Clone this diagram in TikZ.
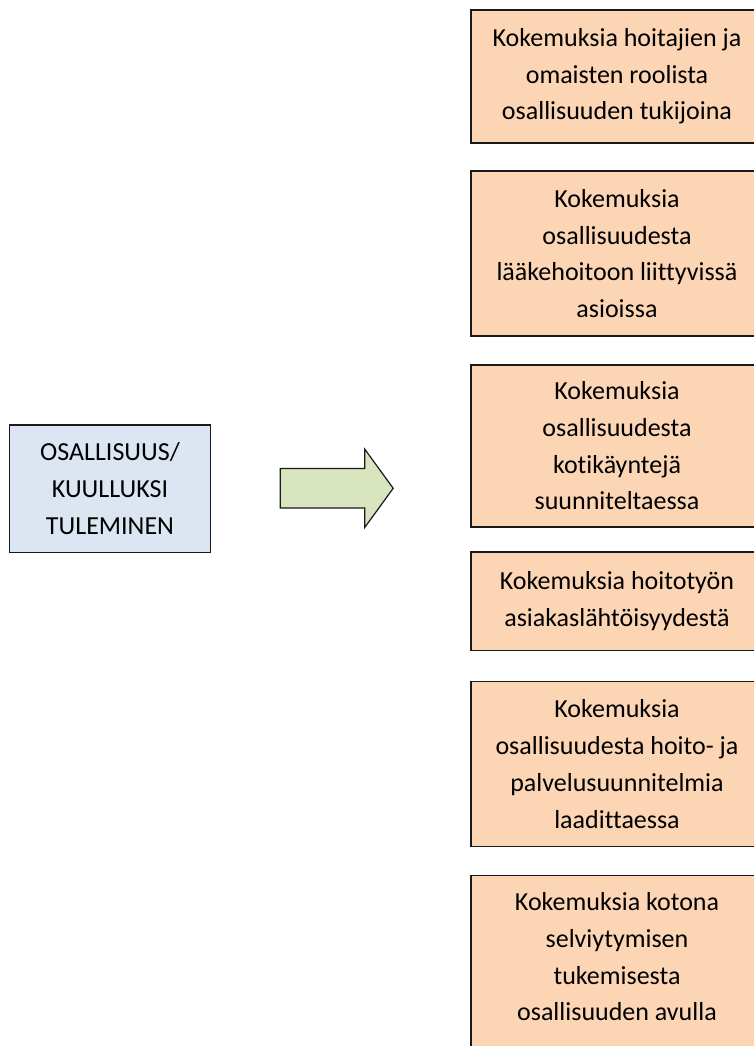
\documentclass[tikz,border=0pt]{standalone}
\usepackage{fontspec}
\setmainfont{Carlito}[Ligatures=NoCommon]
\usepackage{xcolor}
\usetikzlibrary{shapes,arrows,positioning}
\definecolor{osabox}{RGB}{220,230,242}
\definecolor{kokbox}{RGB}{252,213,181}
\definecolor{nuolifill}{RGB}{215,228,189}

\begin{document}
\begin{tikzpicture}[
    box/.style={draw=black!90, line width=0.75pt, align=center, font=\fontsize{13}{18.35}\selectfont, inner sep=0pt},
    kok/.style={box, fill=kokbox, minimum width=146pt},
    bigarrow/.style={single arrow, draw=black!90, line width=0.6pt, fill=nuolifill, minimum height=56.5pt, single arrow head extend=9.7pt, single arrow tip angle=108, inner xsep=0pt, inner ysep=9.6pt}
]
\useasboundingbox (0,0) rectangle (377pt,523pt);

% Left concept
\node[box, fill=osabox, minimum width=100.7pt, minimum height=63.7pt] (osall) at (55pt,278.7pt) {OSALLISUUS/\\KUULLUKSI\\TULEMINEN};

% Block arrow
\node[bigarrow] (nuoli) at (164.75pt,278.85pt) {};

% Experiences
\node[kok, minimum height=66.5pt] (k1) at (308.5pt,484.75pt) {Kokemuksia hoitajien ja\\omaisten roolista\\osallisuuden tukijoina};
\node[kok, minimum height=82.5pt, below=13.25pt of k1] (k2) {Kokemuksia\\osallisuudesta\\lääkehoitoon liittyvissä\\asioissa};
\node[kok, minimum height=81pt, below=13.75pt of k2] (k3) {Kokemuksia\\osallisuudesta\\kotikäyntejä\\suunniteltaessa};
\node[kok, minimum height=49.3pt, below=11.75pt of k3] (k4) {Kokemuksia hoitotyön\\asiakaslähtöisyydestä};
\node[kok, minimum height=82.5pt, below=14.75pt of k4] (k5) {Kokemuksia\\osallisuudesta hoito- ja\\palvelusuunnitelmia\\laadittaessa};
\node[kok, minimum height=99.5pt, below=13.75pt of k5] (k6) {Kokemuksia kotona\\selviytymisen\\tukemisesta\\osallisuuden avulla\\};

\end{tikzpicture}
\end{document}
